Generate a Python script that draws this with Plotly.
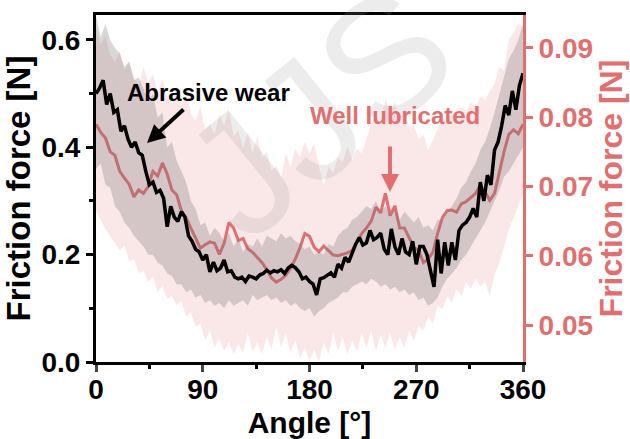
import plotly.graph_objects as go

# ---------------- data ----------------
angle_black = list(range(0, 361, 3))
black_mean = [0.50, 0.51, 0.525, 0.48, 0.50, 0.465, 0.47, 0.43, 0.44, 0.415,
              0.40, 0.41, 0.39, 0.385, 0.355, 0.33, 0.335, 0.316, 0.32, 0.305,
              0.252, 0.29, 0.27, 0.262, 0.28, 0.27, 0.235, 0.225, 0.21, 0.205,
              0.19, 0.20, 0.168, 0.186, 0.17, 0.175, 0.19, 0.168, 0.17, 0.158,
              0.155, 0.158, 0.15, 0.16, 0.158, 0.155, 0.162, 0.165, 0.171, 0.166,
              0.17, 0.168, 0.172, 0.165, 0.175, 0.18, 0.176, 0.168, 0.155, 0.158,
              0.15, 0.145, 0.125, 0.155, 0.157, 0.162, 0.166, 0.158, 0.182, 0.175,
              0.195, 0.186, 0.205, 0.22, 0.232, 0.218, 0.222, 0.245, 0.228, 0.232,
              0.24, 0.21, 0.20, 0.248, 0.215, 0.20, 0.23, 0.205, 0.20, 0.225,
              0.182, 0.215, 0.215, 0.20, 0.17, 0.14, 0.228, 0.165, 0.223, 0.18,
              0.223, 0.19, 0.245, 0.255, 0.26, 0.27, 0.286, 0.27, 0.335, 0.30,
              0.348, 0.33, 0.395, 0.41, 0.44, 0.478, 0.46, 0.505, 0.47, 0.515,
              0.538]

angle_band = list(range(0, 361, 4))
black_upper = [0.645, 0.605, 0.63, 0.60, 0.585, 0.575, 0.55, 0.56, 0.525, 0.53,
               0.51, 0.485, 0.50, 0.455, 0.465, 0.40, 0.41, 0.375, 0.355, 0.335,
               0.30, 0.285, 0.255, 0.26, 0.235, 0.25, 0.24, 0.225, 0.24, 0.215,
               0.23, 0.205, 0.22, 0.215, 0.23, 0.215, 0.235, 0.23, 0.225, 0.24,
               0.23, 0.235, 0.225, 0.22, 0.21, 0.215, 0.20, 0.205, 0.20, 0.22,
               0.215, 0.235, 0.245, 0.25, 0.265, 0.27, 0.28, 0.29, 0.285, 0.30,
               0.28, 0.29, 0.275, 0.285, 0.265, 0.28, 0.27, 0.26, 0.27, 0.25,
               0.255, 0.245, 0.265, 0.265, 0.28, 0.29, 0.305, 0.325, 0.335, 0.355,
               0.37, 0.395, 0.41, 0.435, 0.465, 0.50, 0.53, 0.565, 0.58, 0.60,
               0.63]
black_lower = [0.36, 0.37, 0.33, 0.325, 0.29, 0.28, 0.26, 0.25, 0.235, 0.225,
               0.215, 0.20, 0.20, 0.185, 0.18, 0.165, 0.16, 0.145, 0.145, 0.13,
               0.135, 0.12, 0.125, 0.11, 0.115, 0.105, 0.11, 0.10, 0.115, 0.105,
               0.11, 0.115, 0.105, 0.125, 0.115, 0.12, 0.125, 0.115, 0.12, 0.11,
               0.115, 0.105, 0.11, 0.10, 0.095, 0.10, 0.085, 0.095, 0.10, 0.11,
               0.115, 0.12, 0.13, 0.13, 0.14, 0.145, 0.15, 0.145, 0.155, 0.15,
               0.14, 0.145, 0.135, 0.14, 0.13, 0.135, 0.125, 0.13, 0.115, 0.12,
               0.105, 0.11, 0.12, 0.14, 0.155, 0.165, 0.175, 0.19, 0.20, 0.215,
               0.23, 0.245, 0.26, 0.28, 0.30, 0.32, 0.345, 0.355, 0.37, 0.385,
               0.40]

pink_mean = [0.0790, 0.0778, 0.0770, 0.0750, 0.0745, 0.0722, 0.0712, 0.0703, 0.0685, 0.0695,
             0.0690, 0.0700, 0.0722, 0.0715, 0.0734, 0.0718, 0.0695, 0.0688, 0.0665, 0.0655,
             0.0640, 0.0625, 0.0611, 0.0616, 0.0620, 0.0618, 0.0602, 0.0618, 0.0648, 0.0640,
             0.0622, 0.0625, 0.0610, 0.0605, 0.0598, 0.0590, 0.0580, 0.0568, 0.0562, 0.0566,
             0.0572, 0.0582, 0.0595, 0.0612, 0.0632, 0.0628, 0.0612, 0.0606, 0.0614, 0.0608,
             0.0601, 0.0600, 0.0602, 0.0604, 0.0608, 0.0620, 0.0632, 0.0640, 0.0650, 0.0670,
             0.0662, 0.0690, 0.0658, 0.0672, 0.0640, 0.0640, 0.0625, 0.0612, 0.0608, 0.0590,
             0.0595, 0.0605, 0.0632, 0.0655, 0.0665, 0.0666, 0.0663, 0.0675, 0.0678, 0.0684,
             0.0690, 0.0702, 0.0692, 0.0680, 0.0690, 0.0720, 0.0750, 0.0775, 0.0782, 0.0776,
             0.0790]
pink_upper = [0.0930, 0.0905, 0.0918, 0.0890, 0.0880, 0.0895, 0.0868, 0.0880, 0.0858, 0.0845,
              0.0872, 0.0850, 0.0862, 0.0835, 0.0855, 0.0828, 0.0820, 0.0845, 0.0815, 0.0835,
              0.0805, 0.0795, 0.0815, 0.0782, 0.0790, 0.0775, 0.0805, 0.0788, 0.0810, 0.0772,
              0.0780, 0.0755, 0.0778, 0.0748, 0.0772, 0.0742, 0.0750, 0.0722, 0.0730, 0.0712,
              0.0748, 0.0728, 0.0755, 0.0742, 0.0765, 0.0748, 0.0762, 0.0728, 0.0702, 0.0728,
              0.0720, 0.0742, 0.0735, 0.0758, 0.0738, 0.0755, 0.0748, 0.0768, 0.0792, 0.0802,
              0.0788, 0.0828, 0.0808, 0.0822, 0.0792, 0.0812, 0.0785, 0.0788, 0.0768, 0.0775,
              0.0752, 0.0768, 0.0782, 0.0798, 0.0792, 0.0812, 0.0802, 0.0815, 0.0808, 0.0822,
              0.0812, 0.0830, 0.0825, 0.0838, 0.0848, 0.0872, 0.0868, 0.0912, 0.0922, 0.0935,
              0.0930]
pink_lower = [0.0665, 0.0652, 0.0638, 0.0628, 0.0618, 0.0608, 0.0615, 0.0592, 0.0595, 0.0575,
              0.0578, 0.0562, 0.0570, 0.0548, 0.0556, 0.0538, 0.0542, 0.0528, 0.0535, 0.0512,
              0.0518, 0.0498, 0.0502, 0.0478, 0.0492, 0.0468, 0.0480, 0.0462, 0.0476, 0.0458,
              0.0472, 0.0460, 0.0488, 0.0462, 0.0475, 0.0458, 0.0482, 0.0465, 0.0498, 0.0468,
              0.0488, 0.0460, 0.0478, 0.0452, 0.0468, 0.0448, 0.0465, 0.0447, 0.0475, 0.0458,
              0.0488, 0.0462, 0.0482, 0.0457, 0.0478, 0.0462, 0.0488, 0.0467, 0.0492, 0.0462,
              0.0486, 0.0467, 0.0488, 0.0464, 0.0482, 0.0467, 0.0492, 0.0477, 0.0498, 0.0492,
              0.0512, 0.0502, 0.0528, 0.0522, 0.0542, 0.0532, 0.0552, 0.0542, 0.0562, 0.0552,
              0.0568, 0.0556, 0.0562, 0.0542, 0.0572, 0.0590, 0.0612, 0.0638, 0.0655, 0.0672,
              0.0690]

x_ticks = [0, 90, 180, 270, 360]
x_minor = [45, 135, 225, 315]
left_ticks = [0.0, 0.2, 0.4, 0.6]
left_minor = [0.1, 0.3, 0.5]
right_ticks = [0.05, 0.06, 0.07, 0.08, 0.09]

PINK = "rgb(224,112,112)"
FONT = "Liberation Sans, Arial, sans-serif"

fig = go.Figure()
# pink (well lubricated) on base axis 'y' (right side) so it is drawn below
fig.add_trace(go.Scatter(x=angle_band + angle_band[::-1], y=pink_upper + pink_lower[::-1],
                         fill="toself", fillcolor="rgba(224,112,112,0.17)",
                         line=dict(width=0), mode="lines", yaxis="y", hoverinfo="skip"))
fig.add_trace(go.Scatter(x=angle_band, y=pink_mean, mode="lines",
                         line=dict(color=PINK, width=3), yaxis="y"))
# black (abrasive wear) on overlay axis 'y2' (left side)
fig.add_trace(go.Scatter(x=angle_band + angle_band[::-1], y=black_upper + black_lower[::-1],
                         fill="toself", fillcolor="rgba(110,110,110,0.27)",
                         line=dict(width=0), mode="lines", yaxis="y2", hoverinfo="skip"))
fig.add_trace(go.Scatter(x=angle_black, y=black_mean, mode="lines",
                         line=dict(color="black", width=3.5), yaxis="y2"))

fig.update_layout(
    width=630, height=439,
    margin=dict(l=96, r=107, t=15, b=77, autoexpand=False),
    paper_bgcolor="white", plot_bgcolor="white",
    showlegend=False,
    font=dict(family=FONT, color="black"),
    xaxis=dict(range=[0, 360], tickvals=x_ticks, ticks="outside", ticklen=7, tickwidth=3,
               showline=True, linecolor="black", linewidth=3, mirror=True,
               showgrid=False, zeroline=False, automargin=False, ticklabelstandoff=-7,
               minor=dict(tickvals=x_minor, ticks="outside", ticklen=4, tickwidth=2.5, tickcolor="black"),
               tickfont=dict(size=28, weight="bold", family=FONT),
               title=dict(text="Angle [°]", font=dict(size=30, weight="bold", family=FONT), standoff=10)),
    yaxis=dict(side="right", range=[0.04466, 0.09476], tickvals=right_ticks, tickformat=".2f",
               ticks="outside", ticklen=7, tickwidth=3, tickcolor=PINK,
               showline=True, linecolor=PINK, linewidth=3, automargin=False,
               showgrid=False, zeroline=False,
               tickfont=dict(size=28, weight="bold", color=PINK, family=FONT),
               title=dict(text="Friction force [N]", font=dict(size=32, weight="bold", color=PINK, family=FONT), standoff=6)),
    yaxis2=dict(overlaying="y", side="left", range=[0, 0.6465], tickvals=left_ticks, tickformat=".1f",
                ticks="outside", ticklen=7, tickwidth=3, tickcolor="black",
                showline=True, linecolor="black", linewidth=3, automargin=False,
                showgrid=False, zeroline=False,
                minor=dict(tickvals=left_minor, ticks="outside", ticklen=4, tickwidth=2.5, tickcolor="black"),
                tickfont=dict(size=28, weight="bold", family=FONT),
                title=dict(text="Friction force [N]", font=dict(size=33, weight="bold", family=FONT), standoff=8)),
)

# watermark
fig.add_annotation(text="JJS", xref="paper", yref="paper", x=0.52, y=0.72, showarrow=False,
                   xanchor="center", yanchor="middle",
                   textangle=-39, font=dict(size=170, color="rgba(150,150,150,0.18)", family=FONT))

# labels
fig.add_annotation(text="<b>Abrasive wear</b>", xref="paper", yref="paper", x=0.2646, y=0.778,
                   xanchor="center", yanchor="middle",
                   showarrow=False, font=dict(size=24, color="black", family=FONT))
fig.add_annotation(text="<b>Well lubricated</b>", xref="paper", yref="paper", x=0.7002, y=0.709,
                   xanchor="center", yanchor="middle",
                   showarrow=False, font=dict(size=24, color=PINK, family=FONT))
# arrows
fig.add_annotation(text="", xref="paper", yref="paper", x=0.1194, y=0.631, ax=38, ay=-35,
                   showarrow=True, arrowhead=2, arrowsize=0.9, arrowwidth=4, arrowcolor="black")
fig.add_annotation(text="", xref="paper", yref="paper", x=0.6885, y=0.49, ax=0, ay=-47,
                   showarrow=True, arrowhead=2, arrowsize=0.9, arrowwidth=4, arrowcolor=PINK)

fig.write_html("out.html")
